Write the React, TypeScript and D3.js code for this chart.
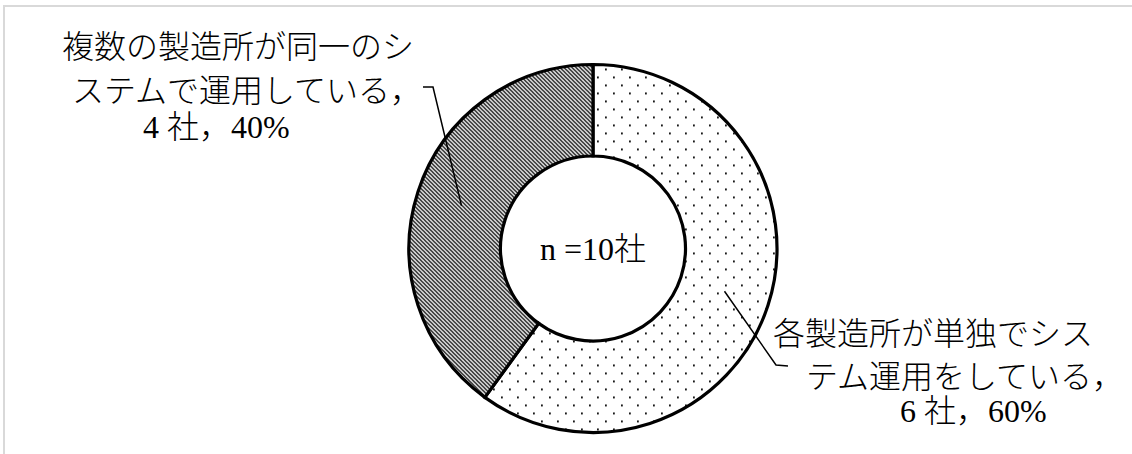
import React from "react";
import * as d3 from "d3";

// ---- data ----
const categories = [
  "各製造所が単独でシステム運用をしている",
  "複数の製造所が同一のシステムで運用している",
];
const companyCounts = [6, 4];
const percentLabels = ["60%", "40%"];
const labelLines = [
  ["各製造所が単独でシス", "テム運用をしている，", "6 社，60%"],
  ["複数の製造所が同一のシ", "ステムで運用している，", "4 社，40%"],
];
const centerLabel = "n =10社";

// ---- layout ----
const W = 1132;
const H = 454;
const cx = 593;
const cy = 248.5;
const outerR = 184;
const innerR = 92.5;
const FONT = "'Liberation Serif', 'Noto Sans CJK JP', serif";

// label layout: leader elbow, leader end, text line starts/baselines
const labelLayout = [
  {
    elbow: [776, 365],
    end: [788, 366],
    xs: [773, 806, 900],
    ys: [345, 388, 422],
  },
  {
    elbow: [433, 87],
    end: [423, 87],
    xs: [62, 72, 143],
    ys: [58, 102, 138],
  },
];

export default function App() {
  const pie = d3
    .pie<number>()
    .sort(null)
    .value((d) => d);
  const arcs = pie(companyCounts);
  const arcGen = d3
    .arc<d3.PieArcDatum<number>>()
    .innerRadius(innerR)
    .outerRadius(outerR);
  const fills = ["url(#dots)", "url(#hatch)"];

  return (
    <svg
      width={W}
      height={H}
      style={{ position: "absolute", left: 0, top: 0, background: "#fff" }}
      fontFamily={FONT}
    >
      <defs>
        <pattern id="dots" patternUnits="userSpaceOnUse" width={16} height={16}>
          <rect width={16} height={16} fill="#fff" />
          <rect x={4} y={4} width={1.8} height={1.8} fill="#000" />
          <rect x={12} y={12} width={1.8} height={1.8} fill="#000" />
        </pattern>
        <pattern id="hatch" patternUnits="userSpaceOnUse" width={4} height={4}>
          <rect width={4} height={4} fill="#fff" />
          <path
            d="M-1,-1 L5,5 M-1,3 L1,5 M3,-1 L5,1"
            stroke="#000"
            strokeWidth={1.25}
          />
        </pattern>
      </defs>

      <path d={`M4,${H} V6 H${W}`} fill="none" stroke="#d9d9d9" strokeWidth={2} />

      <g transform={`translate(${cx},${cy})`}>
        {arcs.map((a, i) => (
          <path
            key={categories[i]}
            d={arcGen(a) || ""}
            fill={fills[i]}
            stroke="#000"
            strokeWidth={3.2}
          />
        ))}
      </g>

      {arcs.map((a, i) => {
        const [mx, my] = arcGen.centroid(a);
        const L = labelLayout[i];
        return (
          <g key={"lab" + i}>
            <polyline
              points={`${cx + mx},${cy + my} ${L.elbow[0]},${L.elbow[1]} ${L.end[0]},${L.end[1]}`}
              fill="none"
              stroke="#000"
              strokeWidth={1.5}
            />
            {labelLines[i].map((t, j) => (
              <text
                key={j}
                x={L.xs[j]}
                y={L.ys[j]}
                fontSize={32}
                fontWeight={300}
                fill="#000"
              >
                {t}
              </text>
            ))}
          </g>
        );
      })}

      <text
        x={cx}
        y={cy + 11}
        fontSize={32}
        fontWeight={300}
        textAnchor="middle"
        fill="#000"
      >
        {centerLabel}
      </text>
      <title>{percentLabels.join(", ")}</title>
    </svg>
  );
}
